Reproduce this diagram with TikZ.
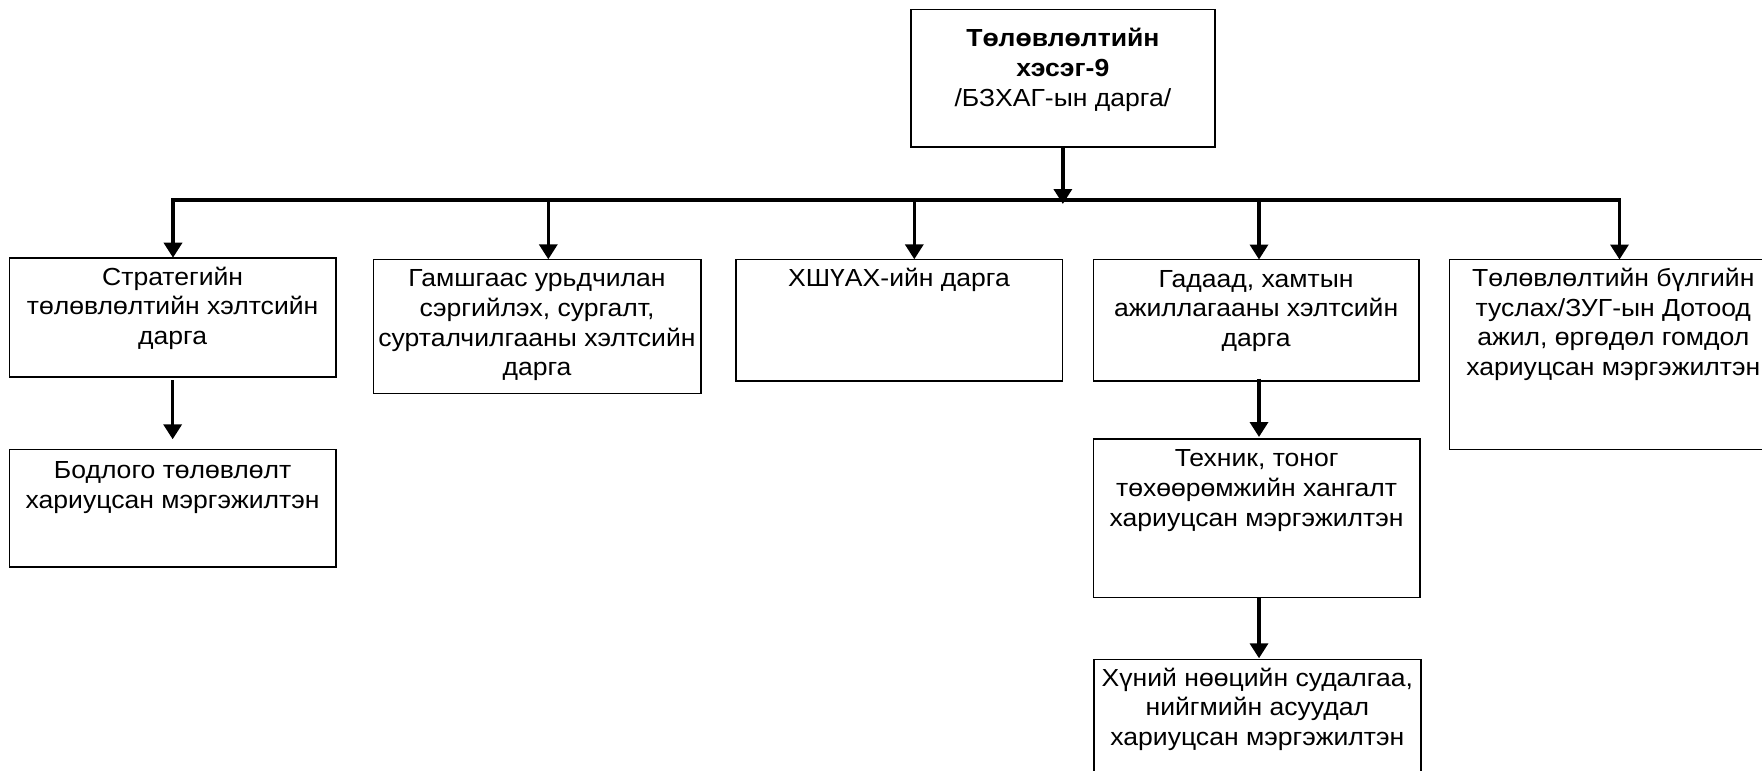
\documentclass[tikz,border=0pt]{standalone}
\usepackage{fontspec}
\setmainfont{Liberation Sans}[FakeStretch=1.075]
\usetikzlibrary{arrows.meta}
\newcommand{\bxt}[4]{\parbox[t][#2pt][t]{#1pt}{\centering\rule{0pt}{#3pt}#4}}
\begin{document}
\begin{tikzpicture}[x=1pt,y=-1pt,
  box/.style={draw, line width=1.6pt, inner sep=0pt, outer sep=0pt, anchor=north west,
    font=\fontsize{24.7}{29.7}\selectfont},
  barline/.style={line width=3.5pt, line cap=rect},
  arr/.style={line width=3.5pt, -{Triangle[width=18pt,length=15pt]}}]
\useasboundingbox (0,0) rectangle (1762,771);
% boxes
\node[box] (top) at (910.7,9.3) {\bxt{304.3}{137.4}{37.4}{\textbf{Төлөвлөлтийн}\\\textbf{хэсэг-9}\\/БЗХАГ-ын дарга/}};
\node[box] (n1) at (9.3,257.7) {\bxt{326.7}{119.3}{27.3}{Стратегийн\\төлөвлөлтийн хэлтсийн\\дарга}};
\node[box] (n1b) at (9.3,449.3) {\bxt{326.7}{117.4}{29}{Бодлого төлөвлөлт\\хариуцсан мэргэжилтэн}};
\node[box] (n2) at (373.3,259.3) {\bxt{327.4}{134}{27.4}{Гамшгаас урьдчилан\\сэргийлэх, сургалт,\\сурталчилгааны хэлтсийн\\дарга}};
\node[box] (n3) at (735.7,259.3) {\bxt{326.6}{121.7}{26.7}{ХШҮАХ-ийн дарга}};
\node[box] (n4) at (1093.3,259.5) {\bxt{325.7}{121.2}{27.5}{Гадаад, хамтын\\ажиллагааны хэлтсийн\\дарга}};
\node[box] (n5) at (1093.3,439) {\bxt{326.7}{158.5}{27.7}{Техник, тоног\\төхөөрөмжийн хангалт\\хариуцсан мэргэжилтэн}};
\node[box] (n6) at (1094,659.3) {\bxt{326.7}{131}{26.7}{Хүний нөөцийн судалгаа,\\нийгмийн асуудал\\хариуцсан мэргэжилтэн}};
\node[box] (n7) at (1449.3,259.5) {\bxt{328}{189.8}{27}{Төлөвлөлтийн бүлгийн\\туслах/ЗУГ-ын Дотоод\\ажил, өргөдөл гомдол\\хариуцсан мэргэжилтэн}};
% bar points
\coordinate (b1) at (173,200);
\coordinate (b2) at (548.3,200);
\coordinate (b3) at (914.3,200);
\coordinate (b4) at (1259,200);
\coordinate (b7) at (1619.5,200);
\draw[barline] (b1) -- (b7);
% connectors
\draw[arr] (top.south) -- ([yshift=-4pt]top.south |- b1);
\draw[arr] (b1) -- (b1 |- n1.north);
\draw[arr] (b2) -- (b2 |- n2.north);
\draw[arr] (b3) -- (b3 |- n3.north);
\draw[arr] (b4) -- (b4 |- n4.north);
\draw[arr] (b7) -- (b7 |- n7.north);
\draw[arr, shorten <=3pt, shorten >=10pt] (n1.south) -- (n1.south |- n1b.north);
\draw[arr, shorten <=-2pt, shorten >=2pt] (b4 |- n4.south) -- (b4 |- n5.north);
\draw[arr, shorten >=1pt] (b4 |- n5.south) -- (b4 |- n6.north);
\end{tikzpicture}
\end{document}
